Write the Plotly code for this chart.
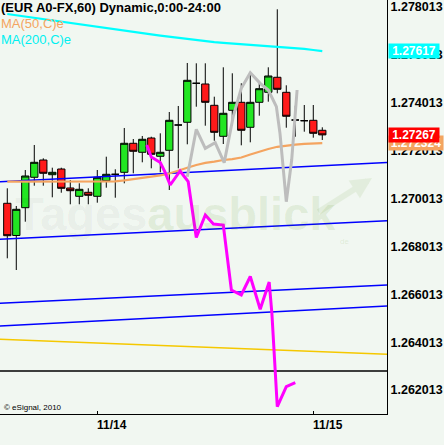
import plotly.graph_objects as go

# ---------------- data ----------------
hours = list(range(36))  # hourly bars, index 10 = 11/14 00:00, index 34 = 11/15 00:00
open_ = [1.269813, 1.268468, 1.269629, 1.270899, 1.271621, 1.271007, 1.271245, 1.270452,
         1.270105, 1.270272, 1.270105, 1.270756, 1.271024, 1.271107, 1.272319, 1.271943,
         1.272540, 1.271776, 1.272026, 1.273083, 1.273196, 1.274825, 1.274796, 1.273906,
         1.272611, 1.273697, 1.274031, 1.272987, 1.274031, 1.274449, 1.275076, 1.274449,
         1.273292, 1.273263, 1.273279, 1.272862]
high = [1.270439, 1.269700, 1.271203, 1.272248, 1.271692, 1.271300, 1.271300, 1.270786,
        1.270648, 1.270439, 1.271203, 1.271759, 1.271233, 1.272958, 1.272498, 1.272624,
        1.272594, 1.272736, 1.273626, 1.273877, 1.275673, 1.275660, 1.275660, 1.274265,
        1.275493, 1.275243, 1.274825, 1.275243, 1.274908, 1.275493, 1.277916, 1.274741,
        1.273889, 1.273918, 1.273918, 1.272987]
low = [1.267515, 1.267026, 1.269044, 1.270548, 1.270548, 1.270063, 1.270255, 1.269771,
       1.269771, 1.269771, 1.269838, 1.270464, 1.270046, 1.270648, 1.271066, 1.271525,
       1.271274, 1.271107, 1.270368, 1.271274, 1.272277, 1.273847, 1.273054, 1.272427,
       1.272289, 1.273054, 1.272235, 1.272360, 1.273472, 1.274056, 1.274407, 1.272970,
       1.272594, 1.272803, 1.272553, 1.272457]
close = [1.268459, 1.269562, 1.270953, 1.271525, 1.271066, 1.271107, 1.270439, 1.270339,
         1.270397, 1.270147, 1.270899, 1.271024, 1.271024, 1.272319, 1.271985, 1.272486,
         1.271859, 1.271943, 1.273279, 1.273083, 1.274950, 1.274825, 1.274031, 1.272778,
         1.273572, 1.274031, 1.272862, 1.274031, 1.274599, 1.275130, 1.274574, 1.273447,
         1.273292, 1.273263, 1.272736, 1.272670]

ma50 = [1.270715, 1.270715, 1.270719, 1.270723, 1.270723, 1.270723, 1.270719, 1.270715,
        1.270711, 1.270706, 1.270706, 1.270711, 1.270731, 1.270769, 1.270815, 1.270861,
        1.270911, 1.270978, 1.271057, 1.271162, 1.271295, 1.271412, 1.271500, 1.271554,
        1.271621, 1.271655, 1.271726, 1.271851, 1.271976, 1.272081, 1.272173, 1.272227,
        1.272264, 1.272294, 1.272315, 1.272324]
ma200 = [1.277720, 1.277665, 1.277611, 1.277557, 1.277502, 1.277448, 1.277394, 1.277339,
         1.277285, 1.277231, 1.277177, 1.277122, 1.277072, 1.277018, 1.276968, 1.276918,
         1.276867, 1.276817, 1.276767, 1.276717, 1.276667, 1.276617, 1.276571, 1.276542,
         1.276512, 1.276487, 1.276462, 1.276437, 1.276412, 1.276391, 1.276366, 1.276341,
         1.276300, 1.276260, 1.276215, 1.276170]

gray_x = [20.0, 20.9, 21.0, 22.0, 23.1, 24.1, 25.1, 26.0, 27.0, 28.1, 29.0, 29.9,
          30.3, 31.0, 31.6, 32.2]
gray_y = [1.270924, 1.272594, 1.272903, 1.272110, 1.272344, 1.271508, 1.273430, 1.274616,
          1.275268, 1.274825, 1.274545, 1.273847, 1.272736, 1.269879, 1.271621, 1.274545]

pink_x = [15.5, 16.0, 17.0, 17.5, 18.1, 19.2, 20.1, 21.0, 22.0, 22.9, 24.0, 24.9,
          26.0, 27.0, 28.1, 29.1, 29.4, 30.0, 31.0, 32.0]
pink_y = [1.272248, 1.271746, 1.271517, 1.271132, 1.270577, 1.271162, 1.270715, 1.268384,
          1.269324, 1.268948, 1.268906, 1.266191, 1.265982, 1.266755, 1.265385, 1.266525,
          1.265218, 1.261316, 1.262152, 1.262319]

# trendlines: price at left edge / right edge of the chart
blue_lines = [(1.270715, 1.271517), (1.268309, 1.269086),
              (1.265635, 1.266400), (1.264687, 1.265523)]
yellow_line = (1.264132, 1.263505)
black_level = 1.262808

y_ticks = [1.262013, 1.264013, 1.266013, 1.268013, 1.270013, 1.272013,
           1.274013, 1.276013, 1.278013]
date_ticks = [10, 34]
date_labels = ["11/14", "11/15"]

last_price = 1.27267
ma50_last = 1.272324
ma200_last = 1.27617

x_range = [-0.81, 42.19]
y_range = [1.261012, 1.278304]

BG = "#f1f7f1"
FONT = "Liberation Sans, Arial, sans-serif"

fig = go.Figure()

# horizontal / trend lines
for a, b in blue_lines:
    fig.add_trace(go.Scatter(x=x_range, y=[a, b], mode="lines",
                             line=dict(color="#0000ff", width=1.5), hoverinfo="skip"))
fig.add_trace(go.Scatter(x=x_range, y=list(yellow_line), mode="lines",
                         line=dict(color="#f5c800", width=1.5), hoverinfo="skip"))
fig.add_trace(go.Scatter(x=x_range, y=[black_level, black_level], mode="lines",
                         line=dict(color="#000000", width=1.5), hoverinfo="skip"))

# moving averages
fig.add_trace(go.Scatter(x=hours, y=ma200, mode="lines",
                         line=dict(color="#00ffff", width=2.2)))
fig.add_trace(go.Scatter(x=hours, y=ma50, mode="lines",
                         line=dict(color="#f4a460", width=2.2)))

# overlays
fig.add_trace(go.Scatter(x=gray_x, y=gray_y, mode="lines",
                         line=dict(color="#bdbdbd", width=3)))
fig.add_trace(go.Scatter(x=pink_x, y=pink_y, mode="lines",
                         line=dict(color="#ff00ff", width=3)))

# candles
fig.add_trace(go.Candlestick(
    x=hours, open=open_, high=high, low=low, close=close,
    increasing=dict(line=dict(color="#000000", width=1), fillcolor="#22e622"),
    decreasing=dict(line=dict(color="#000000", width=1), fillcolor="#ff1a1a"),
    whiskerwidth=0,
))

annotations = []
# top-left texts
annotations.append(dict(text="<b>(EUR A0-FX,60) Dynamic,0:00-24:00</b>", xref="paper", yref="paper",
                        x=0, y=1 - 8 / 414, xanchor="left", yanchor="middle", showarrow=False,
                        font=dict(family=FONT, size=13, color="#000000"), borderpad=0))
annotations.append(dict(text="MA(50,C)e", xref="paper", yref="paper",
                        x=0, y=1 - 23 / 414, xanchor="left", yanchor="middle", showarrow=False,
                        font=dict(family=FONT, size=13, color="#f4a460"), borderpad=0))
annotations.append(dict(text="MA(200,C)e", xref="paper", yref="paper",
                        x=0, y=1 - 39.5 / 414, xanchor="left", yanchor="middle", showarrow=False,
                        font=dict(family=FONT, size=13, color="#00f0f0"), borderpad=0))
# watermark
annotations.append(dict(
    text='<b><span style="color:rgba(0,20,0,0.055)">Tages</span>'
         '<span style="color:rgba(70,137,0,0.10)">ausblick</span></b>',
    xref="paper", yref="paper", x=14 / 387, y=1 - 214 / 414, xanchor="left", yanchor="middle",
    showarrow=False, font=dict(family=FONT, size=47), borderpad=0))
annotations.append(dict(text="de", xref="paper", yref="paper", x=344 / 387, y=1 - 241 / 414,
                        xanchor="center", yanchor="middle", showarrow=False, borderpad=0,
                        font=dict(family=FONT, size=8, color="rgba(70,137,0,0.12)")))
annotations.append(dict(text="", xref="paper", yref="paper", x=372 / 387, y=1 - 178 / 414,
                        ax=-55, ay=35, showarrow=True, arrowhead=2, arrowsize=0.7,
                        arrowwidth=6, arrowcolor="rgba(70,137,0,0.08)"))
# copyright
annotations.append(dict(text="© eSignal, 2010", xref="paper", yref="paper", x=3 / 387,
                        y=1 - 407.5 / 414, xanchor="left", yanchor="middle", showarrow=False,
                        font=dict(family=FONT, size=8, color="#000000"), borderpad=0))
# date labels (left-aligned at their tick)
for t, lab in zip(date_ticks, date_labels):
    annotations.append(dict(text="<b>%s</b>" % lab, xref="x", yref="paper", x=t, y=0,
                            xanchor="left", yanchor="top", yshift=-2, xshift=-2, showarrow=False,
                            font=dict(family=FONT, size=12, color="#000000")))
# price boxes on the axis
for val, txt, col, w in [(ma200_last, "%.5f" % ma200_last, "#00ffff", 50),
                         (ma50_last, "%.6f" % ma50_last, "#f4a460", 54),
                         (last_price, "%.5f" % last_price, "#ff0000", 50)]:
    annotations.append(dict(text="<b>%s</b>" % txt, xref="paper", yref="y", x=1, y=val,
                            xanchor="left", yanchor="middle", xshift=1, showarrow=False,
                            width=w, height=14, bgcolor=col, borderpad=0, align="center",
                            font=dict(family=FONT, size=12, color="#ffffff")))

fig.update_layout(
    width=444, height=445,
    margin=dict(l=0, r=57, t=0, b=31, pad=0),
    paper_bgcolor=BG, plot_bgcolor=BG,
    showlegend=False,
    boxgap=0.1, boxgroupgap=0.1,
    annotations=annotations,
    xaxis=dict(range=x_range, rangeslider=dict(visible=False), showgrid=False, zeroline=False,
               showline=True, linecolor="#000000", linewidth=1,
               tickmode="array", tickvals=date_ticks, ticktext=["", ""],
               ticks="inside", ticklen=3, tickcolor="#000000", showticklabels=False),
    yaxis=dict(range=y_range, side="right", showgrid=False, zeroline=False,
               showline=True, linecolor="#000000", linewidth=1,
               tickmode="array", tickvals=y_ticks, ticktext=["%.6f" % v for v in y_ticks],
               ticks="", tickfont=dict(family=FONT, size=12.5, color="#000000", weight="bold")),
    hovermode=False,
)

fig.write_html("out.html", config={"displayModeBar": False},
               post_script="document.body.style.margin='0';document.body.style.background='%s';" % BG)
